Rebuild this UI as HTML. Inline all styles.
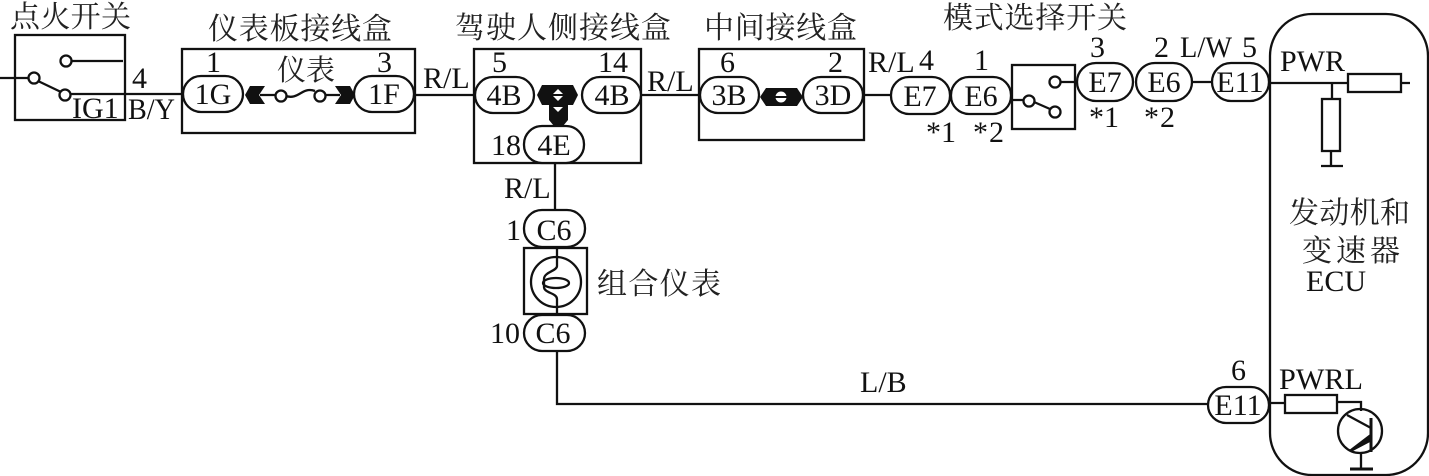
<!DOCTYPE html>
<html><head><meta charset="utf-8">
<style>
html,body{margin:0;padding:0;background:#fff;width:1429px;height:476px;overflow:hidden}
svg{display:block}
text{font-family:"Liberation Serif",serif;fill:#111}
.c{font-family:"Liberation Serif","Noto Serif CJK SC",serif;font-size:30px;fill:#222}
.m{text-anchor:middle;font-size:30px}
.l{font-size:30px}
.s{fill:none;stroke:#111;stroke-width:2.3}
.p{fill:#fff;stroke:#111;stroke-width:2.3}
</style></head><body>
<svg width="1429" height="476" viewBox="0 0 1429 476" xmlns="http://www.w3.org/2000/svg">
<!-- wires -->
<g class="s">
<path d="M0 78H29M71 61H123M70 94H181M38 81L61 92"/>
<path d="M415 95H474M641 95H699M864 95H891M1011 100H1024M1034 102L1050 109M1060 82H1077M1192 82H1212M1269 83H1348M1401 83H1410"/>
<path d="M1332 83V99M1331 151V166M1321 166H1343" />
<path d="M555 163V210M557 351V404H1208M1269 403H1285M1337 402H1361V411"/>
<path d="M260 95H276M286 96C292 98 296 96 301 93S310 89 315 91M325 95H340"/>
</g>
<!-- boxes -->
<rect class="s" x="15" y="35" width="110" height="85"/>
<rect class="s" x="182" y="49" width="233" height="84"/>
<rect class="s" x="474" y="49" width="167" height="114"/>
<rect class="s" x="699" y="49" width="165" height="91"/>
<rect class="s" x="1012" y="65" width="63" height="64"/>
<rect class="s" x="524" y="248" width="63" height="66"/>
<rect class="s" x="1270" y="14" width="158" height="461" rx="42"/>
<!-- switch contacts -->
<g class="p">
<circle cx="66" cy="61" r="5.5"/><circle cx="34" cy="78" r="5.5"/><circle cx="65" cy="95" r="5.5"/>
<circle cx="281" cy="96" r="5.5"/><circle cx="320" cy="96" r="5.5"/>
<circle cx="1029" cy="101" r="5.5"/><circle cx="1055" cy="82" r="5.5"/><circle cx="1055" cy="112" r="5.5"/>
</g>
<!-- black terminals -->
<g fill="#111">
<path d="M245 95L250 86H265L259 95L265 104H250Z"/>
<path d="M335 86H350L355 95L350 104H335L341 95Z"/>
<path d="M537 95L542 85H573L578 95L573 105H568V120L563 126H554L549 120V105H542Z"/>
<path d="M760 97L766 88H797L803 97L797 106H766Z"/>
</g>
<g fill="#fff"><path d="M558 89L564 95L558 101L552 95Z"/><circle cx="781" cy="97" r="5.5"/></g>
<path d="M552 95H564M775 97H787" stroke="#111" stroke-width="2"/>
<path d="M553 107L558 112L563 107Z" fill="#fff"/>
<!-- pills -->
<g class="p">
<rect x="183" y="76" width="60" height="36" rx="18"/>
<rect x="354" y="76" width="60" height="36" rx="18"/>
<rect x="475" y="77" width="59" height="36" rx="18"/>
<rect x="582" y="77" width="59" height="36" rx="18"/>
<rect x="524" y="126" width="60" height="37" rx="18"/>
<rect x="700" y="77" width="59" height="36" rx="18"/>
<rect x="803" y="77" width="60" height="36" rx="18"/>
<rect x="891" y="77" width="59" height="37" rx="18"/>
<rect x="951" y="77" width="60" height="37" rx="18"/>
<rect x="1077" y="63" width="56" height="38" rx="19"/>
<rect x="1136" y="63" width="56" height="38" rx="19"/>
<rect x="1212" y="63" width="57" height="38" rx="19"/>
<rect x="524" y="210" width="61" height="37" rx="18"/>
<rect x="524" y="315" width="61" height="36" rx="18"/>
<rect x="1208" y="387" width="61" height="36" rx="18"/>
<!-- resistors -->
<rect x="1348" y="74" width="53" height="18"/>
<rect x="1322" y="99" width="18" height="52"/>
<rect x="1285" y="395" width="52" height="18"/>
</g>
<!-- gauge -->
<circle class="s" cx="556" cy="282" r="25"/>
<ellipse class="s" cx="556" cy="283" rx="13" ry="5"/>
<path class="s" d="M557 248V266C557 271 544 272 544 279V287C544 293 557 293 557 299V314"/>
<!-- transistor -->
<g class="s">
<circle cx="1360" cy="431" r="22"/>
<path d="M1371 418V452" stroke-width="3"/>
<path d="M1347 415L1371 428M1361 453V469" />
<path d="M1350 469H1373" stroke-width="3"/>
</g>
<path d="M1350 450L1371 434V441L1352 451Z" fill="#111" stroke="#111"/>
<!-- CJK labels -->
<text class="c" x="10" y="27" textLength="121">点火开关</text>
<text class="c" x="208" y="39" textLength="184">仪表板接线盒</text>
<text class="c" x="277" y="80" textLength="58" style="font-size:29px">仪表</text>
<text class="c" x="455" y="38" textLength="216">驾驶人侧接线盒</text>
<text class="c" x="704" y="38" textLength="153">中间接线盒</text>
<text class="c" x="943" y="28" textLength="184">模式选择开关</text>
<text class="c" x="597" y="294" textLength="124">组合仪表</text>
<text class="c" x="1289" y="223" textLength="121">发动机和</text>
<text class="c" x="1302" y="261" textLength="98">变速器</text>
<!-- pill labels -->
<g class="m">
<text x="213" y="104">1G</text>
<text x="384" y="104">1F</text>
<text x="504" y="105">4B</text>
<text x="612" y="105">4B</text>
<text x="554" y="155">4E</text>
<text x="729" y="105">3B</text>
<text x="833" y="105">3D</text>
<text x="920" y="106">E7</text>
<text x="981" y="106">E6</text>
<text x="1105" y="92">E7</text>
<text x="1164" y="92">E6</text>
<text x="1240" y="92">E11</text>
<text x="554" y="240">C6</text>
<text x="553" y="343">C6</text>
<text x="1238" y="415">E11</text>
</g>
<!-- numbers and wire codes -->
<g class="l">
<text x="72" y="118">IG1</text>
<text x="132" y="88">4</text>
<text x="128" y="119" textLength="47" lengthAdjust="spacingAndGlyphs">B/Y</text>
<text x="206" y="72">1</text>
<text x="377" y="72">3</text>
<text x="423" y="88">R/L</text>
<text x="492" y="72">5</text>
<text x="598" y="72">14</text>
<text x="647" y="91">R/L</text>
<text x="720" y="72">6</text>
<text x="828" y="72">2</text>
<text x="491" y="155">18</text>
<text x="504" y="198">R/L</text>
<text x="506" y="240">1</text>
<text x="490" y="343">10</text>
<text x="868" y="72">R/L</text>
<text x="919" y="70">4</text>
<text x="974" y="70">1</text>
<text x="926" y="142">*1</text>
<text x="973" y="142">*</text>
<text x="989" y="142">2</text>
<text x="1090" y="57">3</text>
<text x="1154" y="57">2</text>
<text x="1180" y="57" textLength="52" lengthAdjust="spacingAndGlyphs">L/W</text>
<text x="1242" y="57">5</text>
<text x="1089" y="127">*1</text>
<text x="1144" y="127">*</text>
<text x="1160" y="127">2</text>
<text x="1280" y="71" textLength="65" lengthAdjust="spacingAndGlyphs">PWR</text>
<text x="1306" y="291">ECU</text>
<text x="1279" y="389" textLength="84" lengthAdjust="spacingAndGlyphs">PWRL</text>
<text x="1231" y="380">6</text>
<text x="860" y="392">L/B</text>
</g>
</svg>
</body></html>
